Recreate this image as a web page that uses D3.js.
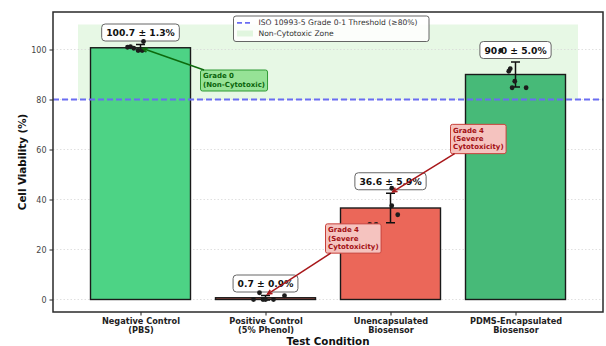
<!DOCTYPE html>
<html>
<head>
<meta charset="utf-8">
<script src="https://cdn.jsdelivr.net/npm/d3@7"></script>
<style>
  html, body { margin: 0; padding: 0; background: #fff; }
  svg { display: block; font-family: "DejaVu Sans", sans-serif; }
</style>
</head>
<body>
<script>
// ---- data ----
const categories = [
  ["Negative Control", "(PBS)"],
  ["Positive Control", "(5% Phenol)"],
  ["Unencapsulated", "Biosensor"],
  ["PDMS-Encapsulated", "Biosensor"]
];
const means = [100.7, 0.7, 36.6, 90.0];
const sds = [1.3, 0.9, 5.9, 5.0];
const barColors = ["#4dd385", "#eb6759", "#eb6759", "#47ba78"];

// individual replicate measurements (viability %) with their horizontal jitter (category units)
const replicateValues = [
  [100.9, 101.1, 100.5, 99.6, 99.6, 103.2],
  [0.0, 2.7, 0.0, 0.0, 0.0, 1.5],
  [30.0, 30.0, 44.5, 37.5, 33.9],
  [99.6, 91.3, 92.3, 87.3, 84.7, 84.7]
];
const replicateJitter = [
  [-0.104, -0.080, -0.054, -0.019, 0.013, 0.024],
  [-0.096, -0.048, -0.020, 0.000, 0.064, 0.152],
  [-0.166, -0.115, 0.010, 0.010, 0.058],
  [-0.118, -0.054, -0.042, -0.006, -0.027, 0.085]
];

const yTicks = [0, 20, 40, 60, 80, 100];
const threshold = 80;
const zone = { x0: -0.5, x1: 3.5, y0: 80, y1: 110 };

// grade call-outs: text lines, target bar, text anchor (data units)
const gradeNotes = [
  { lines: ["Grade 0", "(Non-Cytotoxic)"], bar: 0, tx: 0.5, ty: 87.6, tip: "mean", kind: "ok" },
  { lines: ["Grade 4", "(Severe", "Cytotoxicity)"], bar: 1, tx: 1.5, ty: 24.4, tip: "top", kind: "bad" },
  { lines: ["Grade 4", "(Severe", "Cytotoxicity)"], bar: 2, tx: 2.5, ty: 64.2, tip: "top", kind: "bad" }
];

// ---- layout ----
const W = 606, H = 346;
const plot = { left: 53, right: 603, top: 12, bottom: 312 };

const svg = d3.select("body").append("svg").attr("width", W).attr("height", H);

const x = d3.scaleLinear().domain([-0.7, 3.7]).range([plot.left, plot.right]);
const y = d3.scaleLinear().domain([-5, 115]).range([plot.bottom, plot.top]);
const barW = x(0.8) - x(0);

// non-cytotoxic zone
svg.append("rect")
  .attr("x", x(zone.x0)).attr("y", y(zone.y1))
  .attr("width", x(zone.x1) - x(zone.x0)).attr("height", y(zone.y0) - y(zone.y1))
  .attr("fill", "#e7f8e5");

// horizontal grid
svg.append("g").selectAll("line").data(yTicks).join("line")
  .attr("x1", plot.left).attr("x2", plot.right)
  .attr("y1", d => y(d)).attr("y2", d => y(d))
  .attr("stroke", "#d8d8d8").attr("stroke-width", 0.8).attr("stroke-dasharray", "1.5,2");

// bars
svg.append("g").selectAll("rect").data(means).join("rect")
  .attr("x", (d, i) => x(i) - barW / 2)
  .attr("y", d => y(d))
  .attr("width", barW)
  .attr("height", d => y(0) - y(d))
  .attr("fill", (d, i) => barColors[i])
  .attr("stroke", "#1a1a1a").attr("stroke-width", 1.4);

// threshold line
svg.append("line")
  .attr("x1", plot.left).attr("x2", plot.right)
  .attr("y1", y(threshold)).attr("y2", y(threshold))
  .attr("stroke", "#6a6df2").attr("stroke-width", 1.8).attr("stroke-dasharray", "6,3");

// error bars
const eb = svg.append("g").attr("stroke", "#111").attr("stroke-width", 1.5);
means.forEach((m, i) => {
  const lo = y(m - sds[i]), hi = y(m + sds[i]), cx = x(i);
  eb.append("line").attr("x1", cx).attr("x2", cx).attr("y1", lo).attr("y2", hi);
  eb.append("line").attr("x1", cx - 4.5).attr("x2", cx + 4.5).attr("y1", lo).attr("y2", lo);
  eb.append("line").attr("x1", cx - 4.5).attr("x2", cx + 4.5).attr("y1", hi).attr("y2", hi);
});

// value labels (mean ± sd) in rounded boxes
const labelG = svg.append("g");
means.forEach((m, i) => {
  const g = labelG.append("g");
  const cy = y(m + sds[i] + 4.8);
  const t = g.append("text")
    .attr("x", x(i)).attr("y", cy)
    .attr("text-anchor", "middle").attr("dominant-baseline", "central")
    .attr("font-size", 9.2).attr("font-weight", "bold").attr("fill", "#111")
    .text(`${m.toFixed(1)} ± ${sds[i].toFixed(1)}%`);
  const bb = t.node().getBBox();
  g.insert("rect", "text")
    .attr("x", bb.x - 4.5).attr("y", cy - 8.5)
    .attr("width", bb.width + 9).attr("height", 17)
    .attr("rx", 3.5).attr("fill", "#fff")
    .attr("stroke", "#666").attr("stroke-width", 1);
});

// replicate points
const pts = [];
replicateValues.forEach((vals, i) => vals.forEach((v, j) => pts.push({ i, v, jx: replicateJitter[i][j] })));
svg.append("g").selectAll("circle").data(pts).join("circle")
  .attr("cx", d => x(d.i + d.jx)).attr("cy", d => y(d.v))
  .attr("r", 2.4).attr("fill", "#1c1c1c");

// grade call-outs
const noteStyle = {
  ok: { fill: "#96e296", stroke: "#2f9a35", text: "#0a620a", arrow: "#0d6a0d" },
  bad: { fill: "#f5c3bf", stroke: "#c8413a", text: "#a30f12", arrow: "#a8171a" }
};
const noteG = svg.append("g");
gradeNotes.forEach(n => {
  const st = noteStyle[n.kind];
  const g = noteG.append("g");
  const lh = 8.3;
  const x0 = x(n.tx), yc = y(n.ty);
  const t = g.append("text")
    .attr("font-size", 7).attr("font-weight", "bold").attr("fill", st.text);
  n.lines.forEach((ln, k) => {
    t.append("tspan")
      .attr("x", x0)
      .attr("y", yc + (k - (n.lines.length - 1) / 2) * lh)
      .attr("dominant-baseline", "central")
      .text(ln);
  });
  const bb = t.node().getBBox();
  const bx = bb.x - 2.5, by = yc - (n.lines.length * lh) / 2 - 2.2;
  const bw = bb.width + 5, bh = n.lines.length * lh + 4.4;
  g.insert("rect", "text")
    .attr("x", bx).attr("y", by).attr("width", bw).attr("height", bh)
    .attr("rx", 2).attr("fill", st.fill).attr("stroke", st.stroke).attr("stroke-width", 1);

  // arrow from box edge toward the bar
  const tipV = n.tip === "mean" ? means[n.bar] : means[n.bar] + sds[n.bar];
  const tx = x(n.bar), ty = y(tipV);
  const cx = bx + bw / 2, cy = by + bh / 2;
  const dx = tx - cx, dy = ty - cy;
  const s = Math.min((bw / 2) / Math.abs(dx), (bh / 2) / Math.abs(dy));
  const sx = cx + dx * s, sy = cy + dy * s;
  const len = Math.hypot(tx - sx, ty - sy);
  const ux = (tx - sx) / len, uy = (ty - sy) / len;
  const ex = tx - ux * 2.5, ey = ty - uy * 2.5;
  const arrow = noteG.append("g").attr("stroke", st.arrow).attr("stroke-width", 1.5).attr("fill", "none");
  arrow.append("line").attr("x1", sx).attr("y1", sy).attr("x2", ex).attr("y2", ey);
  const ang = Math.atan2(uy, ux), hl = 5, ha = 0.45;
  arrow.append("path")
    .attr("d", `M${ex - hl * Math.cos(ang - ha)},${ey - hl * Math.sin(ang - ha)} L${ex},${ey} L${ex - hl * Math.cos(ang + ha)},${ey - hl * Math.sin(ang + ha)}`);
});

// axes
const yAxis = svg.append("g").attr("transform", `translate(${plot.left},0)`)
  .call(d3.axisLeft(y).tickValues(yTicks).tickSize(3.5).tickPadding(3));
const xAxis = svg.append("g").attr("transform", `translate(0,${plot.bottom})`)
  .call(d3.axisBottom(x).tickValues(categories.map((c, i) => i)).tickSize(3.5).tickFormat(""));
[yAxis, xAxis].forEach(a => {
  a.select(".domain").remove();
  a.selectAll(".tick line").attr("stroke", "#222").attr("stroke-width", 1);
});
yAxis.selectAll(".tick text")
  .attr("font-family", "DejaVu Sans").attr("font-size", 8).attr("fill", "#444");

// multi-line category labels, one text per line
xAxis.selectAll(".tick text").remove();
xAxis.selectAll(".tick").each(function (d) {
  d3.select(this).selectAll("text.cat").data(categories[d]).join("text")
    .attr("class", "cat")
    .attr("x", 0).attr("y", (ln, k) => 9 + k * 8.6)
    .attr("text-anchor", "middle").attr("dominant-baseline", "central")
    .attr("font-family", "DejaVu Sans").attr("font-size", 8.2)
    .attr("font-weight", "bold").attr("fill", "#222")
    .text(ln => ln);
});

// frame
svg.append("rect")
  .attr("x", plot.left).attr("y", plot.top)
  .attr("width", plot.right - plot.left).attr("height", plot.bottom - plot.top)
  .attr("fill", "none").attr("stroke", "#2a2a2a").attr("stroke-width", 1.5);

// axis titles
svg.append("text")
  .attr("x", (plot.left + plot.right) / 2).attr("y", 340.5)
  .attr("text-anchor", "middle").attr("dominant-baseline", "central")
  .attr("font-size", 10.3).attr("font-weight", "bold").attr("fill", "#111")
  .text("Test Condition");
svg.append("text")
  .attr("transform", `translate(21.5,${(plot.top + plot.bottom) / 2}) rotate(-90)`)
  .attr("text-anchor", "middle").attr("dominant-baseline", "central")
  .attr("font-size", 10.3).attr("font-weight", "bold").attr("fill", "#111")
  .text("Cell Viability (%)");

// legend
const lg = svg.append("g");
lg.append("rect")
  .attr("x", 233.5).attr("y", 16).attr("width", 195.5).attr("height", 25.5)
  .attr("rx", 2.5).attr("fill", "#fff").attr("fill-opacity", 0.85)
  .attr("stroke", "#555").attr("stroke-width", 0.9);
lg.append("line")
  .attr("x1", 237).attr("x2", 253).attr("y1", 22.8).attr("y2", 22.8)
  .attr("stroke", "#6a6df2").attr("stroke-width", 1.8).attr("stroke-dasharray", "5,3");
lg.append("rect")
  .attr("x", 237).attr("y", 30.5).attr("width", 16).attr("height", 6)
  .attr("fill", "#e1f6df");
lg.selectAll("text.lg").data(["ISO 10993-5 Grade 0-1 Threshold (≥80%)", "Non-Cytotoxic Zone"]).join("text")
  .attr("class", "lg")
  .attr("x", 258.5).attr("y", (d, i) => 22.8 + i * 11)
  .attr("dominant-baseline", "central")
  .attr("font-size", 7.6).attr("fill", "#333")
  .text(d => d);
</script>
</body>
</html>
